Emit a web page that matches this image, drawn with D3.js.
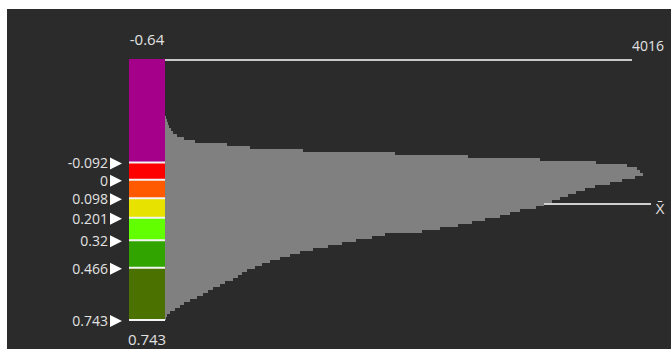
<!DOCTYPE html>
<html>
<head>
<meta charset="utf-8">
<script src="https://cdn.jsdelivr.net/npm/d3@7"></script>
<style>
  html, body { margin: 0; padding: 0; background: #fff; }
  svg { display: block; }
  text { font-family: "Open Sans", "Noto Sans", sans-serif; fill: #e2e2e2; }
</style>
</head>
<body>
<svg id="chart" width="671" height="349"></svg>
<script>
const valueMin = -0.64;
const valueMax = 0.743;
const countMax = 4016;
const meanValue = 0.128;

// class break values and the colour of each band (top to bottom)
const breaks = [-0.092, 0, 0.098, 0.201, 0.32, 0.466, 0.743];
const bandColors = ['#a5008a', '#ff0000', '#ff5a00', '#e8e200', '#62ff00', '#32a400', '#4b7100'];

// histogram counts, one per bin from valueMin to valueMax
const counts = [
  0, 0, 0, 0, 0, 0, 0, 0, 0, 0,
  0, 0, 0, 0, 0, 0, 0, 0, 0, 10,
  17, 26, 34, 52, 69, 103, 163, 258, 533, 731,
  1187, 1978, 2606, 3225, 3707, 3973, 4059, 4085, 4111, 4042,
  3930, 3827, 3698, 3612, 3535, 3466, 3397, 3328, 3259, 3191,
  3053, 2967, 2881, 2752, 2640, 2520, 2365, 2210, 1892, 1780,
  1643, 1522, 1402, 1273, 1161, 1075, 989, 903, 834, 774,
  705, 662, 628, 585, 516, 473, 413, 370, 327, 275,
  215, 163, 129, 86, 43, 17, 9
];

const svg = d3.select('#chart');

// frame: white margin on top and left, dark panel
svg.append('rect').attr('x', 7).attr('y', 9).attr('width', 664).attr('height', 340).attr('fill', '#2b2b2b');

const y = d3.scaleLinear().domain([valueMin, valueMax]).range([59, 320]);
const x = d3.scaleLinear().domain([0, countMax]).range([165, 632]);
const barLeft = 129, barRight = 165;

const binW = (valueMax - valueMin) / counts.length;
const bins = counts.map((c, i) => ({ c, v0: valueMin + i * binW, v1: valueMin + (i + 1) * binW }));

// mean line (drawn under the histogram)
svg.append('line')
  .attr('x1', x(0)).attr('x2', 651)
  .attr('y1', y(meanValue)).attr('y2', y(meanValue))
  .attr('stroke', '#cfcfcf').attr('stroke-width', 2);

svg.append('text')
  .attr('x', 660).attr('y', y(meanValue) + 10)
  .attr('text-anchor', 'middle')
  .style('font-size', '15px')
  .text('X\u0304');

// histogram
svg.append('g').selectAll('rect')
  .data(bins.filter(d => d.c > 0)).enter().append('rect')
  .attr('x', x(0))
  .attr('y', d => y(d.v0))
  .attr('width', d => x(d.c) - x(0))
  .attr('height', d => y(d.v1) - y(d.v0))
  .attr('fill', '#808080')
  .attr('shape-rendering', 'crispEdges');

// max count line
svg.append('line')
  .attr('x1', x(0)).attr('x2', x(countMax))
  .attr('y1', y(valueMin) + 1).attr('y2', y(valueMin) + 1)
  .attr('stroke', '#c8c8c8').attr('stroke-width', 2);

svg.append('text')
  .attr('x', x(countMax)).attr('y', 51)
  .style('font-size', '14px')
  .text(countMax);

// colour bar
const edges = [valueMin, ...breaks];
svg.append('g').selectAll('rect')
  .data(bandColors).enter().append('rect')
  .attr('x', barLeft).attr('width', barRight - barLeft)
  .attr('y', (d, i) => y(edges[i]))
  .attr('height', (d, i) => y(edges[i + 1]) - y(edges[i]))
  .attr('fill', d => d)
  .attr('shape-rendering', 'crispEdges');

svg.append('g').selectAll('line')
  .data(breaks).enter().append('line')
  .attr('x1', barLeft).attr('x2', barRight)
  .attr('y1', d => y(d)).attr('y2', d => y(d))
  .attr('stroke', '#f4f4f4').attr('stroke-width', 2);

// break labels with markers
const marks = svg.append('g').selectAll('g')
  .data(breaks).enter().append('g')
  .attr('transform', d => `translate(0, ${y(d) + 1})`);

marks.append('path')
  .attr('d', 'M110,-6 L122,0 L110,6 Z')
  .attr('fill', '#ffffff');

marks.append('text')
  .attr('x', 108)
  .attr('y', 5)
  .attr('text-anchor', 'end')
  .style('font-size', '14px')
  .text(d => d);

// min / max labels on the bar
svg.append('text')
  .attr('x', (barLeft + barRight) / 2).attr('y', 45)
  .attr('text-anchor', 'middle')
  .style('font-size', '15px')
  .text(valueMin);

svg.append('text')
  .attr('x', (barLeft + barRight) / 2).attr('y', 345)
  .attr('text-anchor', 'middle')
  .style('font-size', '15px')
  .text(valueMax);
</script>
</body>
</html>
